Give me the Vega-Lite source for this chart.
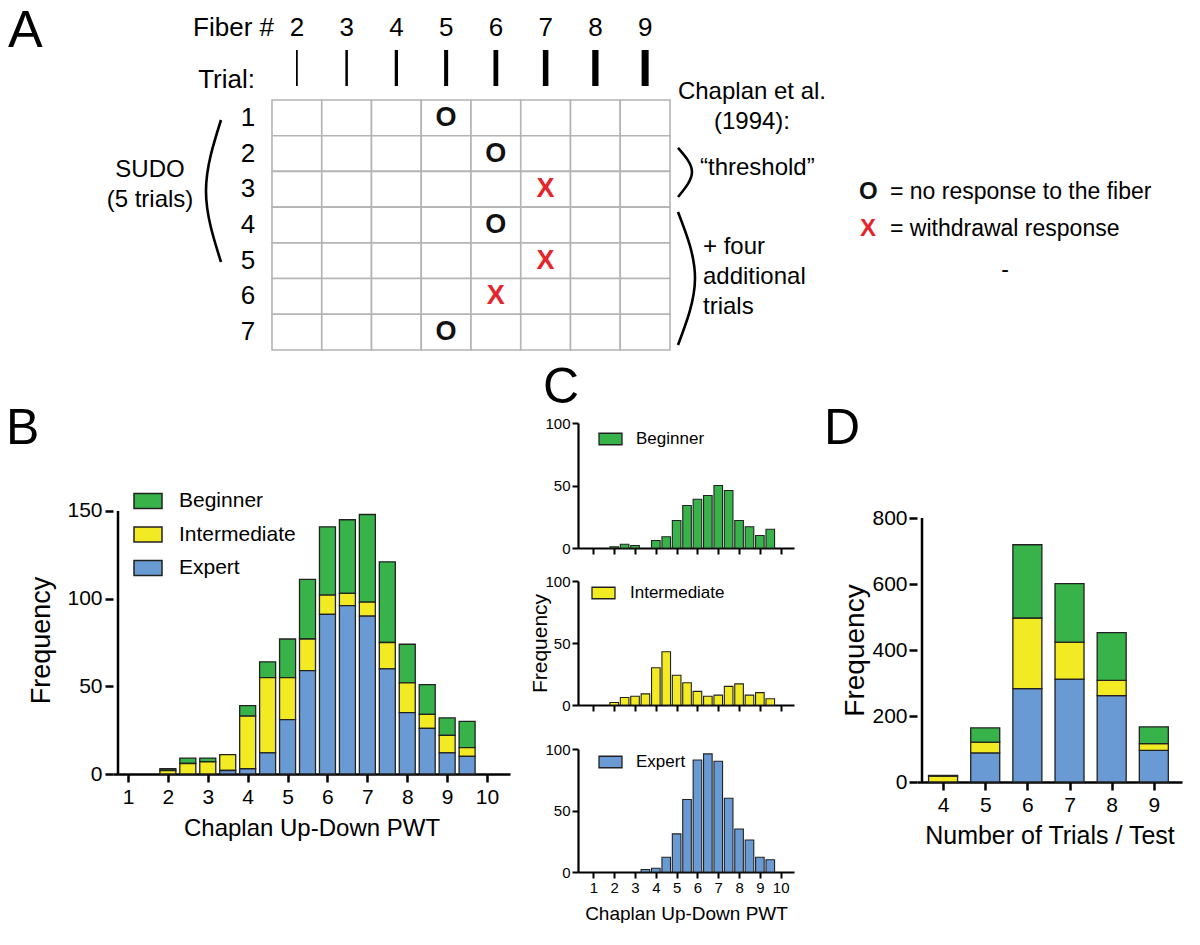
{
  "$schema": "https://vega.github.io/schema/vega-lite/v6.json",
  "background": "white",
  "padding": {"left": 6, "top": 0, "right": 0, "bottom": 0},
  "config": {
    "font": "Liberation Sans",
    "view": {"stroke": null},
    "text": {"font": "Liberation Sans", "color": "black"},
    "title": {"font": "Liberation Sans", "fontWeight": "normal", "color": "black", "fontSize": 50},
    "axis": {"domainColor": "black", "tickColor": "black", "labelColor": "black", "titleColor": "black", "titleFontWeight": "normal", "labelFont": "Liberation Sans", "titleFont": "Liberation Sans", "grid": false, "domainWidth": 2.5, "tickWidth": 2.5},
    "legend": {"labelFont": "Liberation Sans", "labelColor": "black"}
  },
  "datasets": {
    "cells": [
      {"fiber": 2, "trial": 1, "resp": ""}, {"fiber": 3, "trial": 1, "resp": ""}, {"fiber": 4, "trial": 1, "resp": ""}, {"fiber": 5, "trial": 1, "resp": "O"}, {"fiber": 6, "trial": 1, "resp": ""}, {"fiber": 7, "trial": 1, "resp": ""}, {"fiber": 8, "trial": 1, "resp": ""}, {"fiber": 9, "trial": 1, "resp": ""},
      {"fiber": 2, "trial": 2, "resp": ""}, {"fiber": 3, "trial": 2, "resp": ""}, {"fiber": 4, "trial": 2, "resp": ""}, {"fiber": 5, "trial": 2, "resp": ""}, {"fiber": 6, "trial": 2, "resp": "O"}, {"fiber": 7, "trial": 2, "resp": ""}, {"fiber": 8, "trial": 2, "resp": ""}, {"fiber": 9, "trial": 2, "resp": ""},
      {"fiber": 2, "trial": 3, "resp": ""}, {"fiber": 3, "trial": 3, "resp": ""}, {"fiber": 4, "trial": 3, "resp": ""}, {"fiber": 5, "trial": 3, "resp": ""}, {"fiber": 6, "trial": 3, "resp": ""}, {"fiber": 7, "trial": 3, "resp": "X"}, {"fiber": 8, "trial": 3, "resp": ""}, {"fiber": 9, "trial": 3, "resp": ""},
      {"fiber": 2, "trial": 4, "resp": ""}, {"fiber": 3, "trial": 4, "resp": ""}, {"fiber": 4, "trial": 4, "resp": ""}, {"fiber": 5, "trial": 4, "resp": ""}, {"fiber": 6, "trial": 4, "resp": "O"}, {"fiber": 7, "trial": 4, "resp": ""}, {"fiber": 8, "trial": 4, "resp": ""}, {"fiber": 9, "trial": 4, "resp": ""},
      {"fiber": 2, "trial": 5, "resp": ""}, {"fiber": 3, "trial": 5, "resp": ""}, {"fiber": 4, "trial": 5, "resp": ""}, {"fiber": 5, "trial": 5, "resp": ""}, {"fiber": 6, "trial": 5, "resp": ""}, {"fiber": 7, "trial": 5, "resp": "X"}, {"fiber": 8, "trial": 5, "resp": ""}, {"fiber": 9, "trial": 5, "resp": ""},
      {"fiber": 2, "trial": 6, "resp": ""}, {"fiber": 3, "trial": 6, "resp": ""}, {"fiber": 4, "trial": 6, "resp": ""}, {"fiber": 5, "trial": 6, "resp": ""}, {"fiber": 6, "trial": 6, "resp": "X"}, {"fiber": 7, "trial": 6, "resp": ""}, {"fiber": 8, "trial": 6, "resp": ""}, {"fiber": 9, "trial": 6, "resp": ""},
      {"fiber": 2, "trial": 7, "resp": ""}, {"fiber": 3, "trial": 7, "resp": ""}, {"fiber": 4, "trial": 7, "resp": ""}, {"fiber": 5, "trial": 7, "resp": "O"}, {"fiber": 6, "trial": 7, "resp": ""}, {"fiber": 7, "trial": 7, "resp": ""}, {"fiber": 8, "trial": 7, "resp": ""}, {"fiber": 9, "trial": 7, "resp": ""}
    ],
    "parens": [
      {"id": "sudo", "fx": 0.475, "ty": 1.06}, {"id": "sudo", "fx": 0.173, "ty": 3.048}, {"id": "sudo", "fx": 0.475, "ty": 5.037},
      {"id": "thr", "fx": 9.661, "ty": 1.844}, {"id": "thr", "fx": 9.942, "ty": 2.516}, {"id": "thr", "fx": 9.661, "ty": 3.216},
      {"id": "add", "fx": 9.661, "ty": 3.636}, {"id": "add", "fx": 10.003, "ty": 5.485}, {"id": "add", "fx": 9.661, "ty": 7.361}
    ],
    "notes": [
      {"label": "A", "fx": -3.807, "ty": -0.97},
      {"label": "Fiber #", "fx": 1.54, "ty": -1.516},
      {"label": "Trial:", "fx": 1.158, "ty": -0.06},
      {"label": "SUDO", "fx": -0.952, "ty": 2.46},
      {"label": "(5 trials)", "fx": -0.952, "ty": 3.3},
      {"label": "Chaplan et al.", "fx": 11.148, "ty": 0.276},
      {"label": "(1994):", "fx": 11.148, "ty": 1.116},
      {"label": "“threshold”", "fx": 10.103, "ty": 2.404},
      {"label": "+ four", "fx": 10.163, "ty": 4.616},
      {"label": "additional", "fx": 10.163, "ty": 5.457},
      {"label": "trials", "fx": 10.163, "ty": 6.297},
      {"label": "O", "fx": 13.299, "ty": 3.076},
      {"label": "= no response to the fiber", "fx": 13.922, "ty": 3.076},
      {"label": "X", "fx": 13.319, "ty": 4.112},
      {"label": "= withdrawal response", "fx": 13.922, "ty": 4.112},
      {"label": "-", "fx": 16.234, "ty": 5.26}
    ],
    "pwt": [
      {"pwt": 2, "group": "Beginner", "n": 1}, {"pwt": 2.5, "group": "Beginner", "n": 3}, {"pwt": 3, "group": "Beginner", "n": 2}, {"pwt": 4, "group": "Beginner", "n": 6}, {"pwt": 4.5, "group": "Beginner", "n": 9}, {"pwt": 5, "group": "Beginner", "n": 22}, {"pwt": 5.5, "group": "Beginner", "n": 34}, {"pwt": 6, "group": "Beginner", "n": 39}, {"pwt": 6.5, "group": "Beginner", "n": 42}, {"pwt": 7, "group": "Beginner", "n": 50}, {"pwt": 7.5, "group": "Beginner", "n": 46}, {"pwt": 8, "group": "Beginner", "n": 22}, {"pwt": 8.5, "group": "Beginner", "n": 17}, {"pwt": 9, "group": "Beginner", "n": 10}, {"pwt": 9.5, "group": "Beginner", "n": 15},
      {"pwt": 2, "group": "Intermediate", "n": 2}, {"pwt": 2.5, "group": "Intermediate", "n": 6}, {"pwt": 3, "group": "Intermediate", "n": 7}, {"pwt": 3.5, "group": "Intermediate", "n": 9}, {"pwt": 4, "group": "Intermediate", "n": 30}, {"pwt": 4.5, "group": "Intermediate", "n": 43}, {"pwt": 5, "group": "Intermediate", "n": 24}, {"pwt": 5.5, "group": "Intermediate", "n": 18}, {"pwt": 6, "group": "Intermediate", "n": 11}, {"pwt": 6.5, "group": "Intermediate", "n": 7}, {"pwt": 7, "group": "Intermediate", "n": 8}, {"pwt": 7.5, "group": "Intermediate", "n": 15}, {"pwt": 8, "group": "Intermediate", "n": 17}, {"pwt": 8.5, "group": "Intermediate", "n": 8}, {"pwt": 9, "group": "Intermediate", "n": 10}, {"pwt": 9.5, "group": "Intermediate", "n": 5},
      {"pwt": 3.5, "group": "Expert", "n": 2}, {"pwt": 4, "group": "Expert", "n": 3}, {"pwt": 4.5, "group": "Expert", "n": 12}, {"pwt": 5, "group": "Expert", "n": 31}, {"pwt": 5.5, "group": "Expert", "n": 59}, {"pwt": 6, "group": "Expert", "n": 91}, {"pwt": 6.5, "group": "Expert", "n": 96}, {"pwt": 7, "group": "Expert", "n": 90}, {"pwt": 7.5, "group": "Expert", "n": 60}, {"pwt": 8, "group": "Expert", "n": 35}, {"pwt": 8.5, "group": "Expert", "n": 26}, {"pwt": 9, "group": "Expert", "n": 12}, {"pwt": 9.5, "group": "Expert", "n": 10}
    ],
    "trials": [
      {"trials": 4, "group": "Intermediate", "n": 18}, {"trials": 4, "group": "Beginner", "n": 2},
      {"trials": 5, "group": "Expert", "n": 88}, {"trials": 5, "group": "Intermediate", "n": 33}, {"trials": 5, "group": "Beginner", "n": 43},
      {"trials": 6, "group": "Expert", "n": 283}, {"trials": 6, "group": "Intermediate", "n": 214}, {"trials": 6, "group": "Beginner", "n": 222},
      {"trials": 7, "group": "Expert", "n": 312}, {"trials": 7, "group": "Intermediate", "n": 112}, {"trials": 7, "group": "Beginner", "n": 177},
      {"trials": 8, "group": "Expert", "n": 262}, {"trials": 8, "group": "Intermediate", "n": 46}, {"trials": 8, "group": "Beginner", "n": 145},
      {"trials": 9, "group": "Expert", "n": 96}, {"trials": 9, "group": "Intermediate", "n": 20}, {"trials": 9, "group": "Beginner", "n": 51}
    ]
  },
  "resolve": {"scale": {"color": "independent", "strokeWidth": "independent"}},
  "spacing": 5,
  "vconcat": [
    {
      "width": 1082,
      "height": 357,
      "layer": [
        {"data": {"name": "cells"},
         "mark": {"type": "rect", "width": 49.75, "height": 35.71, "align": "center", "baseline": "middle", "fill": "white", "stroke": "#b4b4b4", "strokeWidth": 1.6, "clip": false},
         "encoding": {
           "x": {"field": "fiber", "type": "quantitative", "scale": {"domain": [-1.696, 20.053], "nice": false, "zero": false}, "axis": null},
           "y": {"field": "trial", "type": "quantitative", "scale": {"domain": [-2.3, 7.697], "nice": false, "zero": false, "reverse": true}, "axis": null}}},
        {"data": {"name": "cells"},
         "transform": [{"filter": "datum.resp != ''"}],
         "mark": {"type": "text", "fontSize": 27, "fontWeight": "bold", "clip": false},
         "encoding": {
           "x": {"field": "fiber", "type": "quantitative", "scale": {"domain": [-1.696, 20.053], "nice": false, "zero": false}, "axis": null},
           "y": {"field": "trial", "type": "quantitative", "scale": {"domain": [-2.3, 7.697], "nice": false, "zero": false, "reverse": true}, "axis": null},
           "text": {"field": "resp", "type": "nominal"},
           "color": {"field": "resp", "type": "nominal", "scale": {"domain": ["O", "X"], "range": ["#111111", "#e5242b"]}, "legend": null}}},
        {"data": {"name": "cells"},
         "transform": [{"filter": "datum.trial == 1"}],
         "mark": {"type": "text", "fontSize": 26, "clip": false},
         "encoding": {
           "x": {"field": "fiber", "type": "quantitative", "scale": {"domain": [-1.696, 20.053], "nice": false, "zero": false}, "axis": null},
           "y": {"datum": -1.516, "scale": {"domain": [-2.3, 7.697], "nice": false, "zero": false, "reverse": true}, "axis": null},
           "text": {"field": "fiber", "type": "nominal"}}},
        {"data": {"name": "cells"},
         "transform": [{"filter": "datum.trial == 1"}],
         "mark": {"type": "rule", "color": "black", "strokeCap": "butt", "clip": false},
         "encoding": {
           "x": {"field": "fiber", "type": "quantitative", "scale": {"domain": [-1.696, 20.053], "nice": false, "zero": false}, "axis": null},
           "y": {"datum": -0.9, "scale": {"domain": [-2.3, 7.697], "nice": false, "zero": false, "reverse": true}, "axis": null},
           "y2": {"datum": 0.108},
           "strokeWidth": {"field": "fiber", "type": "quantitative", "scale": {"domain": [2, 9], "range": [1.8, 7]}, "legend": null}}},
        {"data": {"name": "cells"},
         "transform": [{"filter": "datum.fiber == 2"}],
         "mark": {"type": "text", "fontSize": 26, "clip": false},
         "encoding": {
           "x": {"datum": 1.018, "scale": {"domain": [-1.696, 20.053], "nice": false, "zero": false}, "axis": null},
           "y": {"field": "trial", "type": "quantitative", "scale": {"domain": [-2.3, 7.697], "nice": false, "zero": false, "reverse": true}, "axis": null},
           "text": {"field": "trial", "type": "nominal"}}},
        {"data": {"name": "parens"},
         "mark": {"type": "line", "interpolate": "natural", "strokeWidth": 2.6, "color": "black", "clip": false},
         "encoding": {
           "x": {"field": "fx", "type": "quantitative", "scale": {"domain": [-1.696, 20.053], "nice": false, "zero": false}, "axis": null},
           "y": {"field": "ty", "type": "quantitative", "scale": {"domain": [-2.3, 7.697], "nice": false, "zero": false, "reverse": true}, "axis": null},
           "detail": {"field": "id"},
           "order": {"field": "ty", "type": "quantitative"}}},
        {"data": {"name": "notes"},
         "transform": [{"filter": "datum.label == 'A'"}],
         "mark": {"type": "text", "fontSize": 52, "align": "left", "baseline": "alphabetic", "clip": false},
         "encoding": {
           "x": {"field": "fx", "type": "quantitative", "scale": {"domain": [-1.696, 20.053], "nice": false, "zero": false}, "axis": null},
           "y": {"field": "ty", "type": "quantitative", "scale": {"domain": [-2.3, 7.697], "nice": false, "zero": false, "reverse": true}, "axis": null},
           "text": {"field": "label", "type": "nominal"}}},
        {"data": {"name": "notes"},
         "transform": [{"filter": "indexof(['Fiber #', 'Trial:'], datum.label) >= 0"}],
         "mark": {"type": "text", "fontSize": 26, "align": "right", "baseline": "middle", "clip": false},
         "encoding": {
           "x": {"field": "fx", "type": "quantitative", "scale": {"domain": [-1.696, 20.053], "nice": false, "zero": false}, "axis": null},
           "y": {"field": "ty", "type": "quantitative", "scale": {"domain": [-2.3, 7.697], "nice": false, "zero": false, "reverse": true}, "axis": null},
           "text": {"field": "label", "type": "nominal"}}},
        {"data": {"name": "notes"},
         "transform": [{"filter": "indexof(['SUDO', '(5 trials)', 'Chaplan et al.', '(1994):'], datum.label) >= 0"}],
         "mark": {"type": "text", "fontSize": 24, "align": "center", "baseline": "middle", "clip": false},
         "encoding": {
           "x": {"field": "fx", "type": "quantitative", "scale": {"domain": [-1.696, 20.053], "nice": false, "zero": false}, "axis": null},
           "y": {"field": "ty", "type": "quantitative", "scale": {"domain": [-2.3, 7.697], "nice": false, "zero": false, "reverse": true}, "axis": null},
           "text": {"field": "label", "type": "nominal"}}},
        {"data": {"name": "notes"},
         "transform": [{"filter": "indexof(['“threshold”', '+ four', 'additional', 'trials'], datum.label) >= 0"}],
         "mark": {"type": "text", "fontSize": 24, "align": "left", "baseline": "middle", "clip": false},
         "encoding": {
           "x": {"field": "fx", "type": "quantitative", "scale": {"domain": [-1.696, 20.053], "nice": false, "zero": false}, "axis": null},
           "y": {"field": "ty", "type": "quantitative", "scale": {"domain": [-2.3, 7.697], "nice": false, "zero": false, "reverse": true}, "axis": null},
           "text": {"field": "label", "type": "nominal"}}},
        {"data": {"name": "notes"},
         "transform": [{"filter": "datum.label == 'O' || datum.label == 'X'"}],
         "mark": {"type": "text", "fontSize": 24, "fontWeight": "bold", "align": "left", "baseline": "middle", "clip": false},
         "encoding": {
           "x": {"field": "fx", "type": "quantitative", "scale": {"domain": [-1.696, 20.053], "nice": false, "zero": false}, "axis": null},
           "y": {"field": "ty", "type": "quantitative", "scale": {"domain": [-2.3, 7.697], "nice": false, "zero": false, "reverse": true}, "axis": null},
           "text": {"field": "label", "type": "nominal"},
           "color": {"field": "label", "type": "nominal", "scale": {"domain": ["O", "X"], "range": ["#111111", "#e5242b"]}, "legend": null}}},
        {"data": {"name": "notes"},
         "transform": [{"filter": "indexof(['= no response to the fiber', '= withdrawal response'], datum.label) >= 0"}],
         "mark": {"type": "text", "fontSize": 23, "align": "left", "baseline": "middle", "clip": false},
         "encoding": {
           "x": {"field": "fx", "type": "quantitative", "scale": {"domain": [-1.696, 20.053], "nice": false, "zero": false}, "axis": null},
           "y": {"field": "ty", "type": "quantitative", "scale": {"domain": [-2.3, 7.697], "nice": false, "zero": false, "reverse": true}, "axis": null},
           "text": {"field": "label", "type": "nominal"}}},
        {"data": {"name": "notes"},
         "transform": [{"filter": "datum.label == '-'"}],
         "mark": {"type": "text", "fontSize": 23, "align": "center", "baseline": "middle", "clip": false},
         "encoding": {
           "x": {"field": "fx", "type": "quantitative", "scale": {"domain": [-1.696, 20.053], "nice": false, "zero": false}, "axis": null},
           "y": {"field": "ty", "type": "quantitative", "scale": {"domain": [-2.3, 7.697], "nice": false, "zero": false, "reverse": true}, "axis": null},
           "text": {"field": "label", "type": "nominal"}}}
      ]
    },
    {
      "resolve": {"scale": {"color": "independent"}},
      "spacing": 19,
      "hconcat": [
        {
          "width": 397,
          "height": 351,
          "title": {"text": "B", "anchor": "start", "frame": "group", "dx": -107, "offset": -71, "baseline": "alphabetic"},
          "layer": [
            {
              "data": {"name": "pwt"},
              "transform": [{"calculate": "indexof(['Expert', 'Intermediate', 'Beginner'], datum.group)", "as": "stackOrder"}],
              "mark": {"type": "bar", "orient": "vertical", "width": 16, "stroke": "#222222", "strokeWidth": 1.3},
              "encoding": {
                "x": {"field": "pwt", "type": "quantitative", "scale": {"domain": [0.75, 10.45], "nice": false, "zero": false},
                      "axis": {"values": [1, 2, 3, 4, 5, 6, 7, 8, 9, 10], "title": "Chaplan Up-Down PWT", "labelFontSize": 21, "titleFontSize": 24, "tickSize": 8, "labelPadding": 4, "titlePadding": 9}},
                "y": {"field": "n", "type": "quantitative", "stack": "zero", "scale": {"domain": [0, 200.19], "nice": false},
                      "axis": {"values": [0, 50, 100, 150], "domain": false, "title": "Frequency", "titleFontSize": 27, "titlePadding": 11, "titleY": 217, "labelFontSize": 21, "tickSize": 8, "labelPadding": 3}},
                "order": {"field": "stackOrder", "type": "quantitative", "sort": "ascending"},
                "color": {"field": "group", "type": "nominal",
                          "scale": {"domain": ["Beginner", "Intermediate", "Expert"], "range": ["#37b34a", "#f2ea22", "#6a9ad4"]},
                          "legend": {"orient": "none", "legendX": 20, "legendY": 63, "title": null, "symbolType": "M-1,-0.536H1V0.536H-1Z", "symbolSize": 784, "symbolStrokeColor": "#222222", "symbolStrokeWidth": 1.5, "symbolOpacity": 1, "labelFontSize": 21, "labelOffset": 16, "rowPadding": 7.5, "padding": 0}}
              }
            },
            {
              "data": {"values": [{"edge": "y axis"}]},
              "mark": {"type": "rule", "strokeWidth": 2.5, "color": "black"},
              "encoding": {"x": {"datum": 0.75}, "y": {"datum": 0}, "y2": {"datum": 150}}
            }
          ]
        },
        {
          "resolve": {"scale": {"color": "independent"}},
          "spacing": 30,
          "hconcat": [
            {
              "resolve": {"scale": {"color": "independent"}},
              "spacing": 29,
              "vconcat": [
                {
                  "resolve": {"scale": {"color": "independent"}},
                  "spacing": 18,
                  "vconcat": [
                    {
                      "width": 216,
                      "height": 125,
                      "title": {"text": "C", "anchor": "start", "frame": "group", "dx": -35, "offset": -36.5, "baseline": "alphabetic"},
                      "data": {"name": "pwt"},
                      "transform": [{"filter": "datum.group == 'Beginner'"}],
                      "mark": {"type": "bar", "orient": "vertical", "width": 8.6, "stroke": "#222222", "strokeWidth": 1.1},
                      "encoding": {
                        "x": {"field": "pwt", "type": "quantitative", "scale": {"domain": [0.5, 10.4], "nice": false, "zero": false}, "axis": {"values": [1, 2, 3, 4, 5, 6, 7, 8, 9, 10], "labels": false, "title": null, "tickSize": 6, "domainWidth": 2.2, "tickWidth": 2}},
                        "y": {"field": "n", "type": "quantitative", "scale": {"domain": [0, 100], "nice": false}, "axis": {"values": [0, 50, 100], "title": null, "labelFontSize": 15, "tickSize": 6, "labelPadding": 2, "domainWidth": 2.2, "tickWidth": 2}},
                        "color": {"field": "group", "type": "nominal", "scale": {"domain": ["Beginner"], "range": ["#37b34a"]}, "legend": {"orient": "none", "legendX": 20, "legendY": 3.5, "title": null, "symbolType": "M-1,-0.5H1V0.5H-1Z", "symbolSize": 529, "symbolStrokeColor": "#222222", "symbolStrokeWidth": 1.3, "symbolOpacity": 1, "labelFontSize": 17, "labelOffset": 13, "padding": 0}}
                      }
                    },
                    {
                      "width": 216,
                      "height": 124,
                      "data": {"name": "pwt"},
                      "transform": [{"filter": "datum.group == 'Intermediate'"}],
                      "mark": {"type": "bar", "orient": "vertical", "width": 8.6, "stroke": "#222222", "strokeWidth": 1.1},
                      "encoding": {
                        "x": {"field": "pwt", "type": "quantitative", "scale": {"domain": [0.5, 10.4], "nice": false, "zero": false}, "axis": {"values": [1, 2, 3, 4, 5, 6, 7, 8, 9, 10], "labels": false, "title": null, "tickSize": 6, "domainWidth": 2.2, "tickWidth": 2}},
                        "y": {"field": "n", "type": "quantitative", "scale": {"domain": [0, 100], "nice": false}, "axis": {"values": [0, 50, 100], "title": "Frequency", "titleFontSize": 21, "titlePadding": -6, "labelFontSize": 15, "tickSize": 6, "labelPadding": 2, "domainWidth": 2.2, "tickWidth": 2}},
                        "color": {"field": "group", "type": "nominal", "scale": {"domain": ["Intermediate"], "range": ["#f2ea22"]}, "legend": {"orient": "none", "legendX": 13, "legendY": -0.5, "title": null, "symbolType": "M-1,-0.5H1V0.5H-1Z", "symbolSize": 529, "symbolStrokeColor": "#222222", "symbolStrokeWidth": 1.3, "symbolOpacity": 1, "labelFontSize": 17, "labelOffset": 14, "padding": 0}}
                      }
                    }
                  ]
                },
                {
                  "width": 216,
                  "height": 123,
                  "data": {"name": "pwt"},
                  "transform": [{"filter": "datum.group == 'Expert'"}],
                  "mark": {"type": "bar", "orient": "vertical", "width": 8.6, "stroke": "#222222", "strokeWidth": 1.1},
                  "encoding": {
                    "x": {"field": "pwt", "type": "quantitative", "scale": {"domain": [0.5, 10.4], "nice": false, "zero": false}, "axis": {"values": [1, 2, 3, 4, 5, 6, 7, 8, 9, 10], "title": "Chaplan Up-Down PWT", "titleFontSize": 19, "titlePadding": 9, "labelFontSize": 15, "labelPadding": 2, "tickSize": 6, "domainWidth": 2.2, "tickWidth": 2}},
                    "y": {"field": "n", "type": "quantitative", "scale": {"domain": [0, 100], "nice": false}, "axis": {"values": [0, 50, 100], "title": null, "labelFontSize": 15, "tickSize": 6, "labelPadding": 2, "domainWidth": 2.2, "tickWidth": 2}},
                    "color": {"field": "group", "type": "nominal", "scale": {"domain": ["Expert"], "range": ["#6a9ad4"]}, "legend": {"orient": "none", "legendX": 20, "legendY": 0.5, "title": null, "symbolType": "M-1,-0.5H1V0.5H-1Z", "symbolSize": 529, "symbolStrokeColor": "#222222", "symbolStrokeWidth": 1.3, "symbolOpacity": 1, "labelFontSize": 17, "labelOffset": 13, "padding": 0}}
                  }
                }
              ]
            },
            {
              "width": 265,
              "height": 359,
              "title": {"text": "D", "anchor": "start", "frame": "group", "dx": -93, "offset": -71, "baseline": "alphabetic"},
              "layer": [
                {
                  "data": {"name": "trials"},
                  "transform": [{"calculate": "indexof(['Expert', 'Intermediate', 'Beginner'], datum.group)", "as": "stackOrder"}],
                  "mark": {"type": "bar", "orient": "vertical", "width": 29, "stroke": "#222222", "strokeWidth": 1.3},
                  "encoding": {
                    "x": {"field": "trials", "type": "quantitative", "scale": {"domain": [3.5, 9.55], "nice": false, "zero": false},
                          "axis": {"values": [4, 5, 6, 7, 8, 9], "title": "Number of Trials / Test", "labelFontSize": 21, "titleFontSize": 25, "tickSize": 8, "labelPadding": 4, "titlePadding": 8}},
                    "y": {"field": "n", "type": "quantitative", "stack": "zero", "scale": {"domain": [0, 1088], "nice": false},
                          "axis": {"values": [0, 200, 400, 600, 800], "domain": false, "title": "Frequency", "titleFontSize": 28, "titlePadding": 2, "titleY": 227, "labelFontSize": 21, "tickSize": 8, "labelPadding": 2}},
                    "order": {"field": "stackOrder", "type": "quantitative", "sort": "ascending"},
                    "color": {"field": "group", "type": "nominal",
                              "scale": {"domain": ["Beginner", "Intermediate", "Expert"], "range": ["#37b34a", "#f2ea22", "#6a9ad4"]}, "legend": null}
                  }
                },
                {
                  "data": {"values": [{"edge": "y axis"}]},
                  "mark": {"type": "rule", "strokeWidth": 2.5, "color": "black"},
                  "encoding": {"x": {"datum": 3.5}, "y": {"datum": 0}, "y2": {"datum": 800}}
                }
              ]
            }
          ]
        }
      ]
    }
  ]
}
